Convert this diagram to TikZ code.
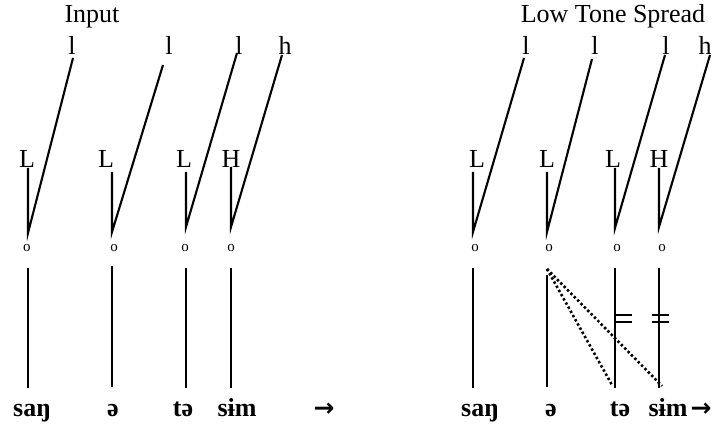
\documentclass[tikz,border=0pt]{standalone}
\usepackage{fontspec}
\setmainfont{Liberation Serif}
\newfontfamily\arrowfont{DejaVu Sans}
\begin{document}
\begin{tikzpicture}[x=1pt,y=-1pt,
  lbl/.style={anchor=base,inner sep=0pt,font=\fontsize{26}{30}\selectfont},
  wrd/.style={anchor=base,inner sep=0pt,font=\fontsize{26}{30}\selectfont\bfseries},
  arw/.style={anchor=base,inner sep=0pt,font=\fontsize{25}{30}\selectfont\arrowfont\bfseries},
  tbu/.style={anchor=base,inner sep=0pt,font=\fontsize{15}{17}\selectfont},
  ln/.style={line width=2.1pt},
  dts/.style={line width=2.6pt,dash pattern=on 2.4pt off 2.4pt}]
\useasboundingbox (0,0) rectangle (713,427);

% ---------- Left panel: Input ----------
\node[lbl] (inp) at (92,23) {Input};
\node[lbl] (tl1) at (72,55) {l};
\node[lbl] (tl2) at (169,55) {l};
\node[lbl] (tl3) at (239,55) {l};
\node[lbl] (th1) at (285,55) {h};
\node[lbl] (L1) at (27,168) {L};
\node[lbl] (L2) at (106,168) {L};
\node[lbl] (L3) at (184,168) {L};
\node[lbl] (H1) at (231,168) {H};

\coordinate (v1t) at (28,168); \coordinate (v1b) at (28,233); \coordinate (d1t) at (73,58);
\coordinate (v2t) at (112,172); \coordinate (v2b) at (112,232); \coordinate (d2t) at (163,65);
\coordinate (v3t) at (186,172); \coordinate (v3b) at (186,227); \coordinate (d3t) at (237,53);
\coordinate (v4t) at (231,167); \coordinate (v4b) at (231,227); \coordinate (d4t) at (282,55);
\draw[ln] (v1t) -- (v1b) -- (d1t);
\draw[ln] (v2t) -- (v2b) -- (d2t);
\draw[ln] (v3t) -- (v3b) -- (d3t);
\draw[ln] (v4t) -- (v4b) -- (d4t);

\node[tbu] (o1) at (27,252) {o};
\node[tbu] (o2) at (114,252) {o};
\node[tbu] (o3) at (185,252) {o};
\node[tbu] (o4) at (231,252) {o};

\coordinate (s1t) at (28,268); \coordinate (s1b) at (28,388);
\coordinate (s2t) at (112,266); \coordinate (s2b) at (112,387);
\coordinate (s3t) at (186,268); \coordinate (s3b) at (186,388);
\coordinate (s4t) at (231,268); \coordinate (s4b) at (231,388);
\draw[ln] (s1t) -- (s1b);
\draw[ln] (s2t) -- (s2b);
\draw[ln] (s3t) -- (s3b);
\draw[ln] (s4t) -- (s4b);

\node[wrd] (w1) at (32,417) {saŋ};
\node[wrd] (w2) at (113,417) {ə};
\node[wrd] (w3) at (183,417) {tə};
\node[wrd] (w4) at (237,417) {sɨm};
\node[arw] (ar1) at (324,417) {→};

% ---------- Right panel: Low Tone Spread ----------
\node[lbl] (lts) at (613,23) {Low Tone Spread};
\node[lbl] (rl1) at (526,55) {l};
\node[lbl] (rl2) at (595,55) {l};
\node[lbl] (rl3) at (666,55) {l};
\node[lbl] (rh1) at (705,55) {h};
\node[lbl] (RL1) at (477,168) {L};
\node[lbl] (RL2) at (547,168) {L};
\node[lbl] (RL3) at (613,168) {L};
\node[lbl] (RH1) at (659,168) {H};

\coordinate (rv1t) at (473,172); \coordinate (rv1b) at (473,232); \coordinate (rd1t) at (524,58);
\coordinate (rv2t) at (547,172); \coordinate (rv2b) at (547,232); \coordinate (rd2t) at (592,59);
\coordinate (rv3t) at (615,168); \coordinate (rv3b) at (615,228); \coordinate (rd3t) at (665,55);
\coordinate (rv4t) at (659,168); \coordinate (rv4b) at (659,227); \coordinate (rd4t) at (710,55);
\draw[ln] (rv1t) -- (rv1b) -- (rd1t);
\draw[ln] (rv2t) -- (rv2b) -- (rd2t);
\draw[ln] (rv3t) -- (rv3b) -- (rd3t);
\draw[ln] (rv4t) -- (rv4b) -- (rd4t);

\node[tbu] (ro1) at (475,252) {o};
\node[tbu] (ro2) at (549,252) {o};
\node[tbu] (ro3) at (617,252) {o};
\node[tbu] (ro4) at (662,252) {o};

\coordinate (rs1t) at (473,268); \coordinate (rs1b) at (473,388);
\coordinate (rs2t) at (547,275); \coordinate (rs2b) at (547,387);
\coordinate (rs3t) at (615,268); \coordinate (rs3b) at (615,388);
\coordinate (rs4t) at (659,268); \coordinate (rs4b) at (659,388);
\draw[ln] (rs1t) -- (rs1b);
\draw[ln] (rs2t) -- (rs2b);
\draw[ln] (rs3t) -- (rs3b);
\draw[ln] (rs4t) -- (rs4b);

% spreading (dotted) association lines
\coordinate (sp0) at (547,269);
\coordinate (sp1) at (612,385);
\coordinate (sp2) at (662,386);
\draw[dts] (sp0) -- (sp1);
\draw[dts] (sp0) -- (sp2);

% delinking marks
\coordinate (e1a) at (615,315); \coordinate (e1b) at (632,315);
\coordinate (e1c) at (615,322); \coordinate (e1d) at (632,322);
\coordinate (e2a) at (652,315); \coordinate (e2b) at (669,315);
\coordinate (e2c) at (652,322); \coordinate (e2d) at (669,322);
\draw[ln] (e1a) -- (e1b);
\draw[ln] (e1c) -- (e1d);
\draw[ln] (e2a) -- (e2b);
\draw[ln] (e2c) -- (e2d);

\node[wrd] (rw1) at (480,417) {saŋ};
\node[wrd] (rw2) at (551,417) {ə};
\node[wrd] (rw3) at (620,417) {tə};
\node[wrd] (rw4) at (668,417) {sɨm};
\node[arw] (ar2) at (701,417) {→};
\end{tikzpicture}
\end{document}
